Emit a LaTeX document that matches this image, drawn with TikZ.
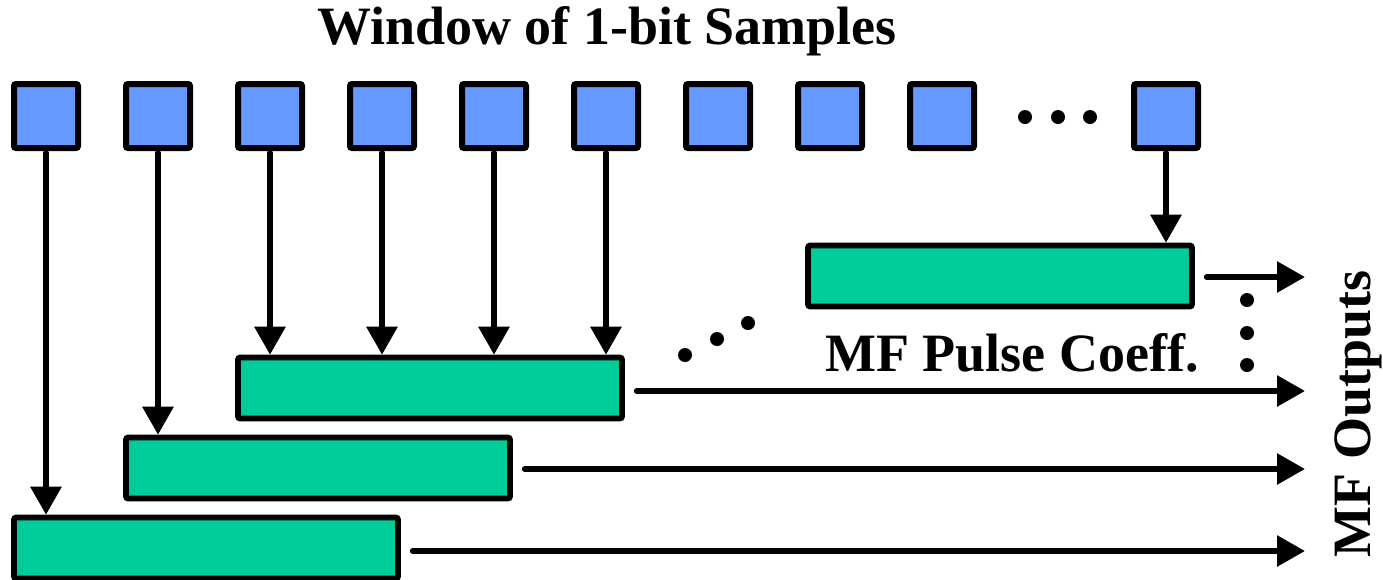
\documentclass[tikz,border=0pt]{standalone}
\usepackage{fontspec}
\setmainfont{Liberation Serif}
\usetikzlibrary{arrows.meta}
\definecolor{sampleblue}{HTML}{6699FF}
\definecolor{coeffgreen}{HTML}{00CC99}
\tikzset{
  sample/.style={shape=rectangle,draw=black,line width=3pt,fill=sampleblue,minimum size=32pt,inner sep=0pt,rounded corners=1pt},
  coeff/.style={shape=rectangle,draw=black,line width=2.8pt,fill=coeffgreen,minimum width=192pt,minimum height=30.5pt,inner sep=0pt,rounded corners=1pt},
  flow/.style={line width=3pt,line cap=round,-{Triangle[width=15pt,length=14pt]}},
  dot/.style={shape=circle,fill=black,minimum size=7pt,inner sep=0pt},
  lbl/.style={font=\fontsize{27}{31}\selectfont\bfseries,inner sep=0pt}
}
\begin{document}
\begin{tikzpicture}[x=0.5pt,y=-0.5pt]
  \useasboundingbox (0,0) rectangle (1383,579);

  \node[lbl] (title) at (607,31) {Window of 1-bit Samples};

  % samples
  \foreach \i in {1,...,9}
    \node[sample] (s\i) at ({46+112*(\i-1)},116) {};
  \node[sample] (s10) at (1166,116) {};
  \node[dot] (d1) at (1025,117) {};
  \node[dot] (d2) at (1058,117) {};
  \node[dot] (d3) at (1090,117) {};

  % coefficient blocks
  \node[coeff] (r1) at (206,548) {};
  \node[coeff] (r2) at (318,468) {};
  \node[coeff] (r3) at (430,388) {};
  \node[coeff] (r4) at (1000,276) {};

  \node[dot] (d4) at (685,355) {};
  \node[dot] (d5) at (717,339) {};
  \node[dot] (d6) at (748,323) {};
  \node[dot] (d7) at (1247,300) {};
  \node[dot] (d8) at (1247,333) {};
  \node[dot] (d9) at (1247,365) {};

  \node[lbl] (coeff) at (1012,353) {MF Pulse Coeff.};
  \node[lbl,rotate=90] (outs) at (1358,414) {MF Outputs};

  \draw[flow,shorten <=1pt] (s1) -- (s1 |- r1.north);
  \draw[flow,shorten <=1pt] (s2) -- (s2 |- r2.north);
  \foreach \i in {3,...,6}
    \draw[flow,shorten <=1pt] (s\i) -- (s\i |- r3.north);
  \draw[flow,shorten <=1pt] (s10) -- (s10 |- r4.north);

  % outputs
  \coordinate (o1) at (1305,551);
  \coordinate (o2) at (1305,469);
  \coordinate (o3) at (1305,391);
  \coordinate (o4) at (1305,277);
  \draw[flow,shorten <=6pt] (r1.east |- o1) -- (o1);
  \draw[flow,shorten <=6pt] (r2.east |- o2) -- (o2);
  \draw[flow,shorten <=6pt] (r3.east |- o3) -- (o3);
  \draw[flow,shorten <=6pt] (r4.east |- o4) -- (o4);
\end{tikzpicture}
\end{document}
